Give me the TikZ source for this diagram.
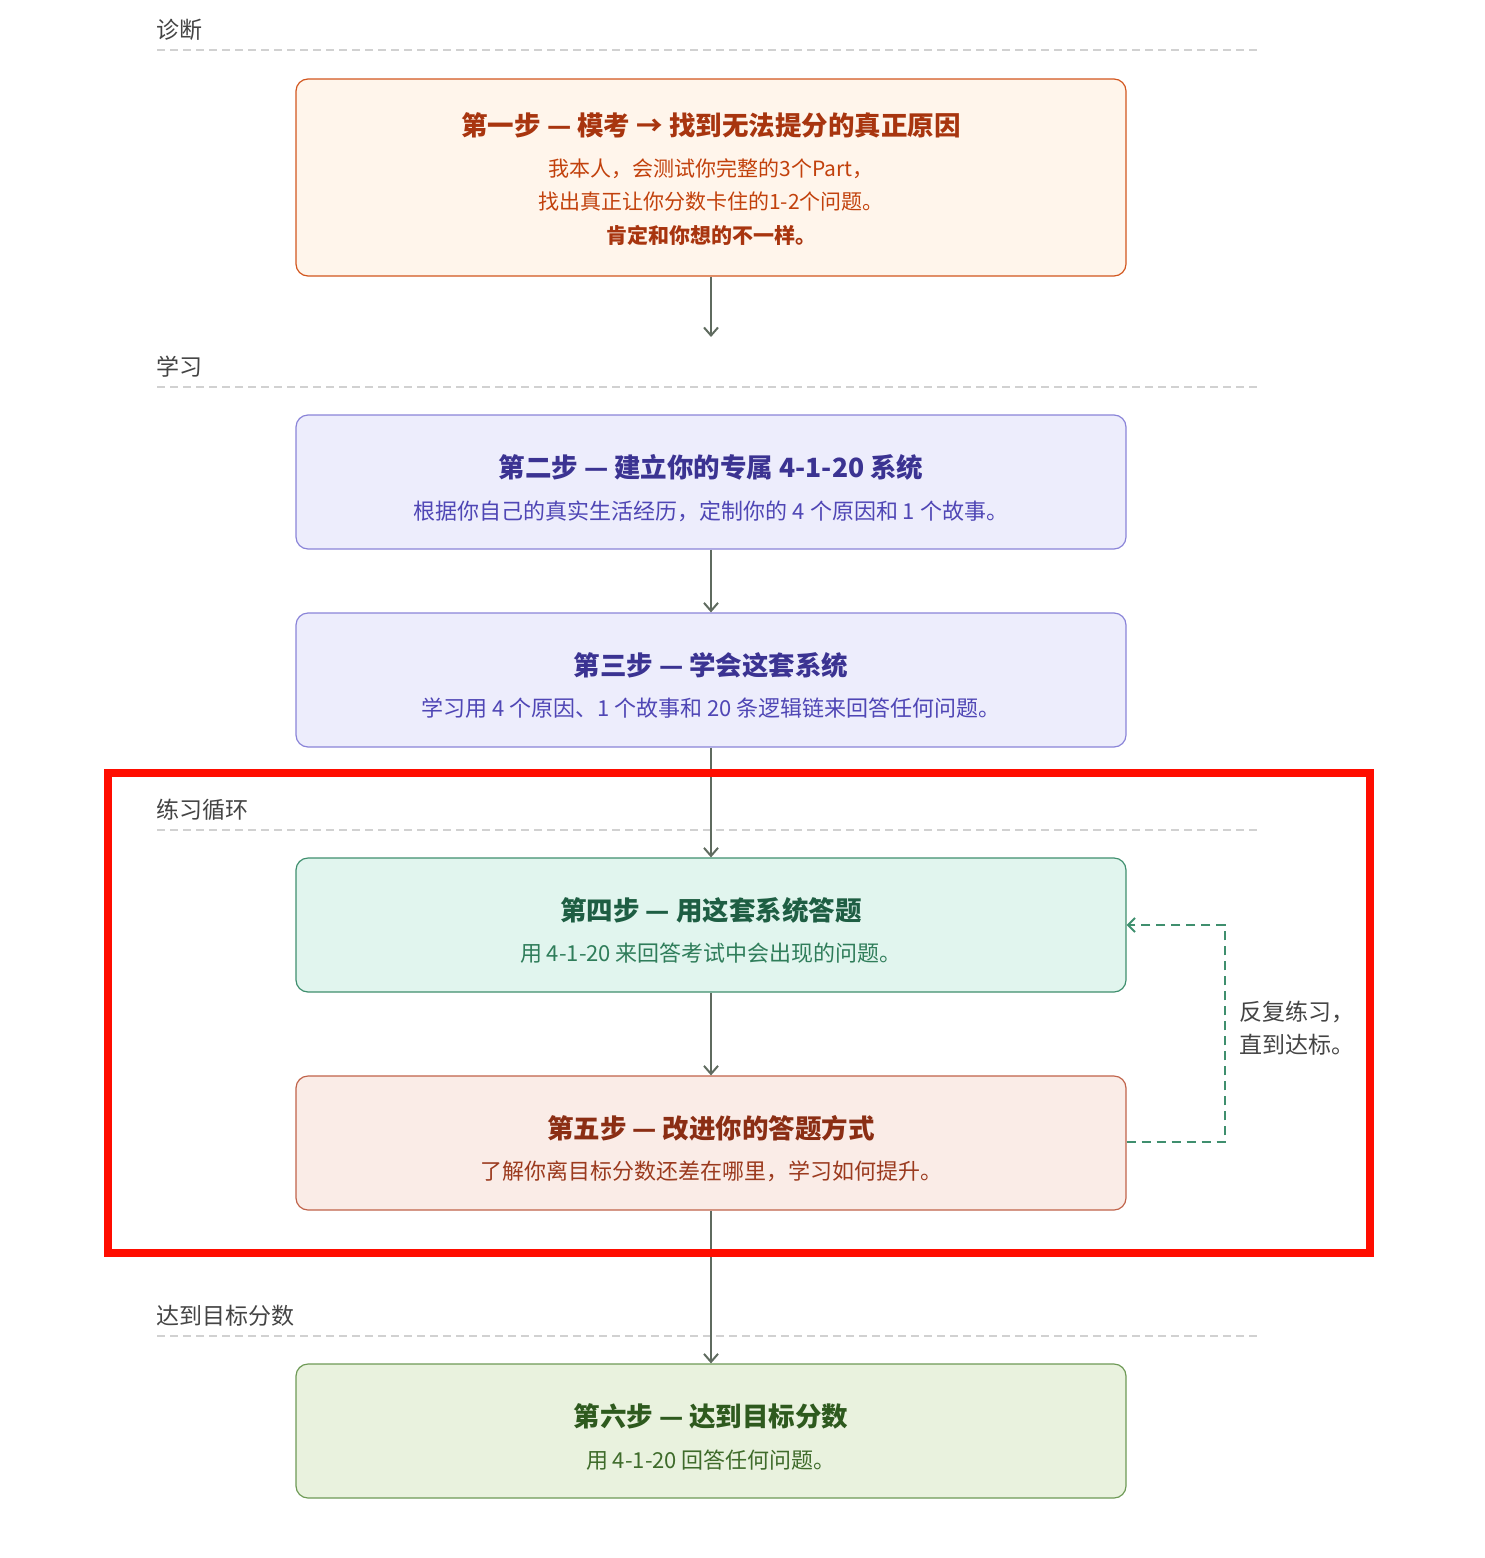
\documentclass[tikz,border=0pt]{standalone}
\usepackage{fontspec}
\setmainfont{Noto Sans CJK SC}
\usetikzlibrary{arrows.meta}
\definecolor{o1}{HTML}{FFF5EB}\definecolor{o2}{HTML}{D2561E}\definecolor{o3}{HTML}{A8350F}\definecolor{o4}{HTML}{C2410C}
\definecolor{p1}{HTML}{EDEDFC}\definecolor{p2}{HTML}{8A84D8}\definecolor{p3}{HTML}{3B3392}\definecolor{p4}{HTML}{4F46B5}
\definecolor{g1}{HTML}{E1F5EE}\definecolor{g2}{HTML}{3F8F6E}\definecolor{g3}{HTML}{1E5E43}\definecolor{g4}{HTML}{2F7D5A}
\definecolor{r1}{HTML}{FAECE7}\definecolor{r2}{HTML}{C0634A}\definecolor{r3}{HTML}{8B2E14}\definecolor{r4}{HTML}{9B3A1E}
\definecolor{l1}{HTML}{E9F2DE}\definecolor{l2}{HTML}{6E9A56}\definecolor{l3}{HTML}{2E5A1E}\definecolor{l4}{HTML}{3E6B2A}
\definecolor{ar}{HTML}{5F6B5F}\definecolor{sec}{HTML}{444444}
\tikzset{
 box/.style={draw, rounded corners=12pt, line width=1.2pt, minimum width=830pt, align=center, inner sep=0pt},
 sect/.style={anchor=west, text=sec, font=\fontsize{23}{26}\selectfont},
 sline/.style={dashed, draw=black!18, line width=1.2pt, dash pattern=on 8pt off 5pt},
 arr/.style={draw=ar, line width=2pt, -{Straight Barb[length=8pt,width=14pt]}},
 tt/.style={font=\fontsize{26.5}{30}\selectfont\bfseries},
 bd/.style={font=\fontsize{22}{26}\selectfont},
}
\begin{document}
\begin{tikzpicture}[x=1pt,y=-1pt]
\useasboundingbox (0,0) rectangle (1484,1558);
% sections
\node[sect] (s1) at (153,30) {诊断}; \draw[sline] (157,50) -- (1257,50);
\node[sect] (s2) at (153,367) {学习}; \draw[sline] (157,387) -- (1257,387);
\node[sect] (s3) at (153,810) {练习循环}; \draw[sline] (157,830) -- (1257,830);
\node[sect] (s4) at (153,1316) {达到目标分数}; \draw[sline] (157,1336) -- (1257,1336);
% boxes
\node[box, fill=o1, draw=o2, minimum height=197pt] (b1) at (711,177.5) {};
\node[text=o3, tt] at (711,125) {第一步 — 模考 → 找到无法提分的真正原因};
\node[text=o4, align=center, font=\fontsize{21}{33.5}\selectfont] at (711,202) {我本人，会测试你完整的3个Part，\\找出真正让你分数卡住的1-2个问题。\\\textbf{\color{o3}肯定和你想的不一样。}};
\node[box, fill=p1, draw=p2, minimum height=134pt] (b2) at (711,482) {};
\node[text=p3, tt] at (711,467) {第二步 — 建立你的专属 4-1-20 系统};
\node[text=p4, bd] at (711,511) {根据你自己的真实生活经历，定制你的 4 个原因和 1 个故事。};
\node[box, fill=p1, draw=p2, minimum height=134pt] (b3) at (711,680) {};
\node[text=p3, tt] at (711,665) {第三步 — 学会这套系统};
\node[text=p4, bd] at (711,708) {学习用 4 个原因、1 个故事和 20 条逻辑链来回答任何问题。};
\node[box, fill=g1, draw=g2, minimum height=134pt] (b4) at (711,925) {};
\node[text=g3, tt] at (711,910) {第四步 — 用这套系统答题};
\node[text=g4, bd] at (711,953) {用 4-1-20 来回答考试中会出现的问题。};
\node[box, fill=r1, draw=r2, minimum height=134pt] (b5) at (711,1143) {};
\node[text=r3, tt] at (711,1128) {第五步 — 改进你的答题方式};
\node[text=r4, bd] at (711,1171) {了解你离目标分数还差在哪里，学习如何提升。};
\node[box, fill=l1, draw=l2, minimum height=134pt] (b6) at (711,1431) {};
\node[text=l3, tt] at (711,1416) {第六步 — 达到目标分数};
\node[text=l4, bd] at (711,1460) {用 4-1-20 回答任何问题。};
% arrows
\coordinate (a1) at (711,337);
\draw[arr] (b1.south) -- (a1);
\draw[arr] (b2.south) -- (b3.north);
\draw[arr] (b3.south) -- (b4.north);
\draw[arr] (b4.south) -- (b5.north);
\draw[arr] (b5.south) -- (b6.north);
% feedback
\coordinate (f1) at (1225,1142); \coordinate (f2) at (1225,925);
\draw[draw=g2, line width=2pt, dash pattern=on 9pt off 6pt, -{Straight Barb[length=7pt,width=14pt]}] (b5.east |- f1) -- (f1) -- (f2) -- (b4.east);
\node[anchor=west, align=left, text=sec, font=\fontsize{23}{33}\selectfont] (fl) at (1236,1028) {反复练习，\\直到达标。};
% red frame
\draw[draw=red!90!orange, line width=8pt] (108,773) rectangle (1370,1253);
\end{tikzpicture}
\end{document}
